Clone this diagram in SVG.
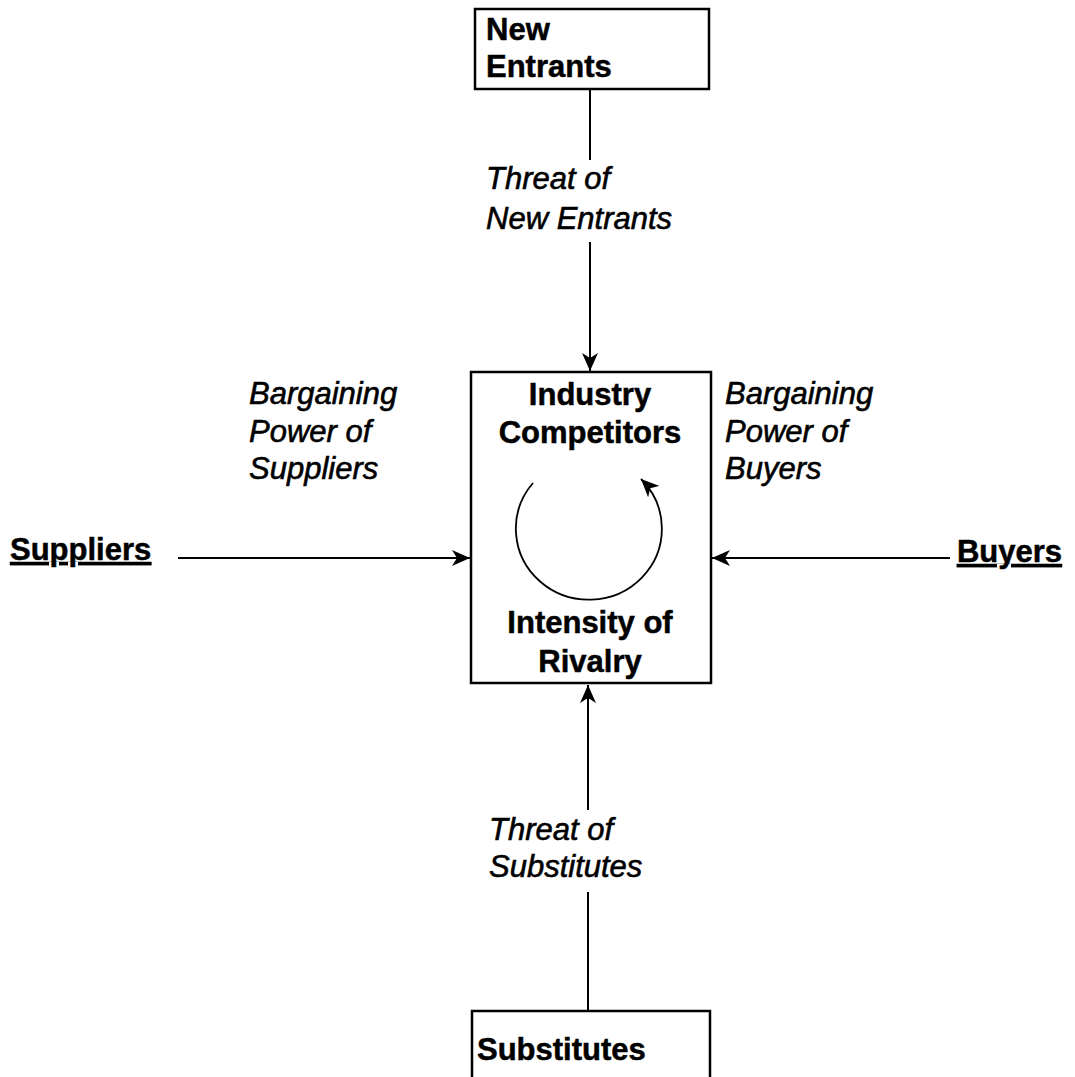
<svg xmlns="http://www.w3.org/2000/svg" width="1075" height="1077" viewBox="0 0 1075 1077">
<defs>
<style>
.box{fill:#fff;stroke:#000;stroke-width:2.5}
.bold{font-family:"Liberation Sans",Arial,sans-serif;font-weight:bold;font-size:31px;fill:#000;stroke:#000;stroke-width:0.5}
.ital{font-family:"Liberation Sans",Arial,sans-serif;font-style:italic;font-size:31px;fill:#000;stroke:#000;stroke-width:0.6}
.ul{text-decoration:underline}
.line{fill:none;stroke:#000;stroke-width:2}
.thin{fill:none;stroke:#000;stroke-width:1.8}
</style>
<marker id="ah" markerUnits="userSpaceOnUse" markerWidth="20" markerHeight="16" refX="18" refY="8" orient="auto">
<path d="M0,0 L18,8 L0,16 L5,8 z" fill="#000"/>
</marker>
</defs>
<rect width="1075" height="1077" fill="#fff"/>
<g id="connectors">
<line class="line" x1="590" y1="89" x2="590" y2="160"/>
<line class="line" x1="590" y1="242" x2="590" y2="371" marker-end="url(#ah)"/>
<line class="line" x1="588" y1="1010" x2="588" y2="892"/>
<line class="line" x1="588" y1="810" x2="588" y2="685" marker-end="url(#ah)"/>
<line class="line" x1="178" y1="558" x2="470" y2="558" marker-end="url(#ah)"/>
<line class="line" x1="950" y1="558" x2="712" y2="558" marker-end="url(#ah)"/>
</g>
<g id="new-entrants">
<rect class="box" x="475" y="9" width="234" height="80"/>
<text class="bold" x="486" y="40">New</text>
<text class="bold" x="486" y="77">Entrants</text>
</g>
<g id="industry-competitors">
<rect class="box" x="471" y="372" width="240" height="311"/>
<text class="bold" x="590" y="405" text-anchor="middle">Industry</text>
<text class="bold" x="590" y="443" text-anchor="middle">Competitors</text>
<path class="thin" d="M 533 483 A 73 71 0 1 0 641 479" marker-end="url(#ah)"/>
<text class="bold" x="590" y="633" text-anchor="middle">Intensity of</text>
<text class="bold" x="590" y="672" text-anchor="middle">Rivalry</text>
</g>
<g id="substitutes">
<rect class="box" x="472" y="1011" width="238" height="90"/>
<text class="bold" x="477" y="1060">Substitutes</text>
</g>
<g id="suppliers">
<text class="bold ul" x="10" y="560">Suppliers</text>
</g>
<g id="buyers">
<text class="bold ul" x="1062" y="562" text-anchor="end">Buyers</text>
</g>
<g id="labels">
<text class="ital" x="486" y="189">Threat of</text>
<text class="ital" x="486" y="229">New Entrants</text>
<text class="ital" x="249" y="404">Bargaining</text>
<text class="ital" x="249" y="442">Power of</text>
<text class="ital" x="249" y="479">Suppliers</text>
<text class="ital" x="725" y="404">Bargaining</text>
<text class="ital" x="725" y="442">Power of</text>
<text class="ital" x="725" y="479">Buyers</text>
<text class="ital" x="489" y="840">Threat of</text>
<text class="ital" x="489" y="877">Substitutes</text>
</g>
</svg>
